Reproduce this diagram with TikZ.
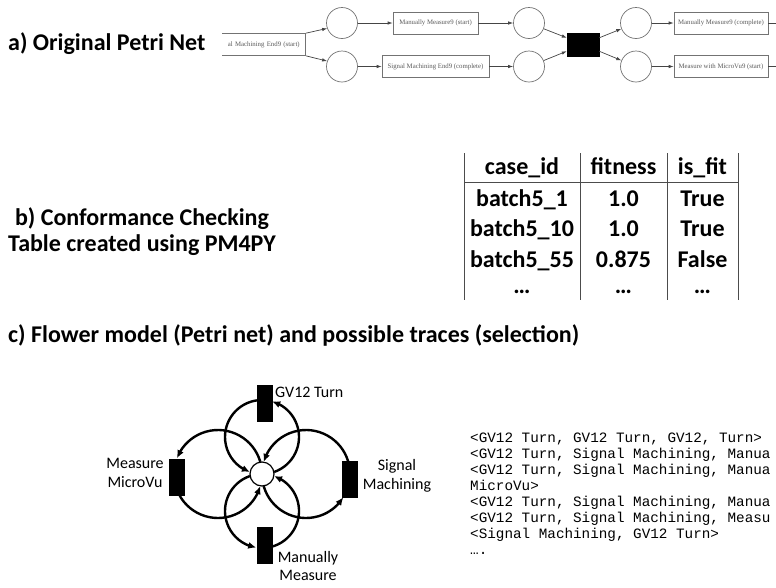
\documentclass[tikz,border=0pt]{standalone}
\usepackage{fontspec}
\setmainfont{Carlito}
\newfontfamily\petrifont{Liberation Serif}
\newfontfamily\tracefont{Liberation Mono}
\usetikzlibrary{arrows.meta,bending,calc}
\definecolor{petrigray}{gray}{0.45}
\definecolor{petritext}{gray}{0.35}
\definecolor{tablegray}{gray}{0.3}

\begin{document}
\begin{tikzpicture}[x=1pt,y=1pt,
	heading/.style={font=\fontsize{24}{26}\selectfont\bfseries, inner sep=0pt},
	pplace/.style={circle, draw=petrigray, line width=0.7pt, minimum size=31pt, inner sep=0pt},
	pbox/.style={rectangle, draw=petrigray, line width=0.7pt, minimum height=22pt, inner sep=0pt, font=\petrifont\fontsize{6.8}{8}\selectfont, text=petritext},
	parr/.style={draw=petrigray!60!black, line width=0.7pt, -{Latex[length=5pt,width=3.5pt]}},
	cell/.style={font=\fontsize{24}{27}\selectfont\bfseries, inner sep=0pt, anchor=base},
	trans/.style={rectangle, fill=black, minimum width=16pt, minimum height=37pt, inner sep=0pt},
	flarc/.style={line width=2.4pt, -{Latex[length=8pt,width=7pt]}},
	flabel/.style={font=\fontsize{16}{18.5}\selectfont, align=center, inner sep=0pt},
	trace/.style={font=\tracefont\fontsize{14.3}{16}\selectfont, anchor=base west, inner sep=0pt}]
	
	\useasboundingbox (0,0) rectangle (776,-587);
	\clip (0,0) rectangle (776,-587);
	
	% a) Original Petri net
	\node[heading, anchor=base west] (headA) at (8,-50) {a) Original Petri Net};
	
	\begin{scope}
		\clip (222,0) rectangle (776,-100);
		\node[pbox, text width=94pt, align=right, inner xsep=6pt, anchor=east] (start) at (306,-44.5) {al Machining End9 (start)};
		\node[pplace] (p1a) at (342,-23) {};
		\node[pplace] (p1b) at (342,-66.5) {};
		\node[pbox, minimum width=85pt] (t1a) at (435.5,-23) {Manually Measure9 (start)};
		\node[pbox, minimum width=107pt] (t1b) at (435.5,-66.5) {Signal Machining End9 (complete)};
		\node[pplace] (p2a) at (529,-23) {};
		\node[pplace] (p2b) at (529,-66.5) {};
		\node[rectangle, fill=black, draw=black, minimum width=32pt, minimum height=23pt, inner sep=0pt] (tau) at (583,-44.5) {};
		\node[pplace] (p3a) at (636,-23) {};
		\node[pplace] (p3b) at (636,-66.5) {};
		\node[pbox, minimum width=94pt] (t3a) at (721,-23) {Manually Measure9 (complete)};
		\node[pbox, minimum width=94pt] (t3b) at (721,-66.5) {Measure with MicroVu9 (start)};
		\coordinate (outA) at (800,-23);
		\coordinate (outB) at (800,-66.5);
		
		\draw[parr] (start.north east) -- (p1a.200);
		\draw[parr] (start.south east) -- (p1b.160);
		\draw[parr] (p1a) -- (t1a);
		\draw[parr] (p1b) -- (t1b);
		\draw[parr] (t1a) -- (p2a);
		\draw[parr] (t1b) -- (p2b);
		\draw[parr] (p2a) -- ([yshift=-5pt]tau.north west);
		\draw[parr] (p2b) -- ([yshift=5pt]tau.south west);
		\draw[parr] ([yshift=-5pt]tau.north east) -- (p3a);
		\draw[parr] ([yshift=5pt]tau.south east) -- (p3b);
		\draw[parr] (p3a) -- (t3a);
		\draw[parr] (p3b) -- (t3b);
		\draw[petrigray!60!black, line width=0.7pt] (t3a) -- (outA);
		\draw[petrigray!60!black, line width=0.7pt] (t3b) -- (outB);
	\end{scope}
	
	% b) Conformance checking table
	\node[heading, align=center] (headB) at (142,-232) {b) Conformance Checking\\Table created using PM4PY};
	
	\node[cell] (h1) at (522,-174) {case\_id};
	\node[cell] (h2) at (623.5,-174) {fitness};
	\node[cell] (h3) at (702.5,-174) {is\_fit};
	\node[cell] (a1) at (522,-206) {batch5\_1};
	\node[cell] (a2) at (623.5,-206) {1.0};
	\node[cell] (a3) at (702.5,-206) {True};
	\node[cell] (b1) at (522,-236.5) {batch5\_10};
	\node[cell] (b2) at (623.5,-236.5) {1.0};
	\node[cell] (b3) at (702.5,-236.5) {True};
	\node[cell] (c1) at (522,-267) {batch5\_55};
	\node[cell] (c2) at (623.5,-267) {0.875};
	\node[cell] (c3) at (702.5,-267) {False};
	\node[cell] (d1) at (522,-293) {…};
	\node[cell] (d2) at (623.5,-293) {…};
	\node[cell] (d3) at (702.5,-293) {…};
	
	\draw[tablegray, line width=0.8pt] (464,-153) -- (464,-300);
	\draw[tablegray, line width=0.8pt] (580,-153) -- (580,-300);
	\draw[tablegray, line width=0.8pt] (667,-153) -- (667,-300);
	\draw[tablegray, line width=0.8pt] (738,-153) -- (738,-300);
	\draw[tablegray, line width=0.8pt] (464,-182) -- (738,-182);
	
	% c) Flower model
	\node[heading, anchor=base west] (headC) at (8,-342) {c) Flower model (Petri net) and possible traces (selection)};
	
	\coordinate (cTop) at (262,-437);
	\coordinate (cRight) at (306,-474);
	\coordinate (cBot) at (262,-511);
	\coordinate (cLeft) at (218,-474);
	
	\draw[flarc] ($(cTop)+(96:37)$) arc[start angle=96, end angle=251, radius=37];
	\draw[flarc] ($(cTop)+(289:37)$) arc[start angle=289, end angle=434, radius=37];
	\draw[flarc] ($(cRight)+(16:44)$) arc[start angle=16, end angle=164, radius=44];
	\draw[flarc] ($(cRight)+(196:44)$) arc[start angle=196, end angle=328, radius=44];
	\draw[flarc] ($(cBot)+(-76:37)$) arc[start angle=-76, end angle=71, radius=37];
	\draw[flarc] ($(cBot)+(109:37)$) arc[start angle=109, end angle=261, radius=37];
	\draw[flarc] ($(cLeft)+(208:44)$) arc[start angle=208, end angle=344, radius=44];
	\draw[flarc] ($(cLeft)+(16:44)$) arc[start angle=16, end angle=159, radius=44];
	
	\node[circle, draw, fill=white, line width=1.2pt, minimum size=24pt, inner sep=0pt] (pl) at (262,-474) {};
	\node[trans] (gv) at (264.5,-403.5) {};
	\node[trans] (mv) at (177,-477) {};
	\node[trans] (sm) at (350,-479) {};
	\node[trans] (mm) at (264.5,-545.5) {};
	
	\node[flabel, anchor=west] (lgv) at (275,-392) {GV12 Turn};
	\node[flabel] (lmv) at (135,-473) {Measure\\MicroVu};
	\node[flabel] (lsm) at (397,-476) {Signal\\Machining};
	\node[flabel] (lmm) at (308,-566) {Manually\\Measure};
	
	% possible traces
	\foreach \txt [count=\k from 0] in {{<GV12 Turn, GV12 Turn, GV12, Turn>},
		{<GV12 Turn, Signal Machining, Manua},
		{<GV12 Turn, Signal Machining, Manua},
		{MicroVu>},
		{<GV12 Turn, Signal Machining, Manua},
		{<GV12 Turn, Signal Machining, Measu},
		{<Signal Machining, GV12 Turn>},
		{….}}
		\node[trace] (tr\k) at (470,-442-16*\k) {\txt};
\end{tikzpicture}
\end{document}
